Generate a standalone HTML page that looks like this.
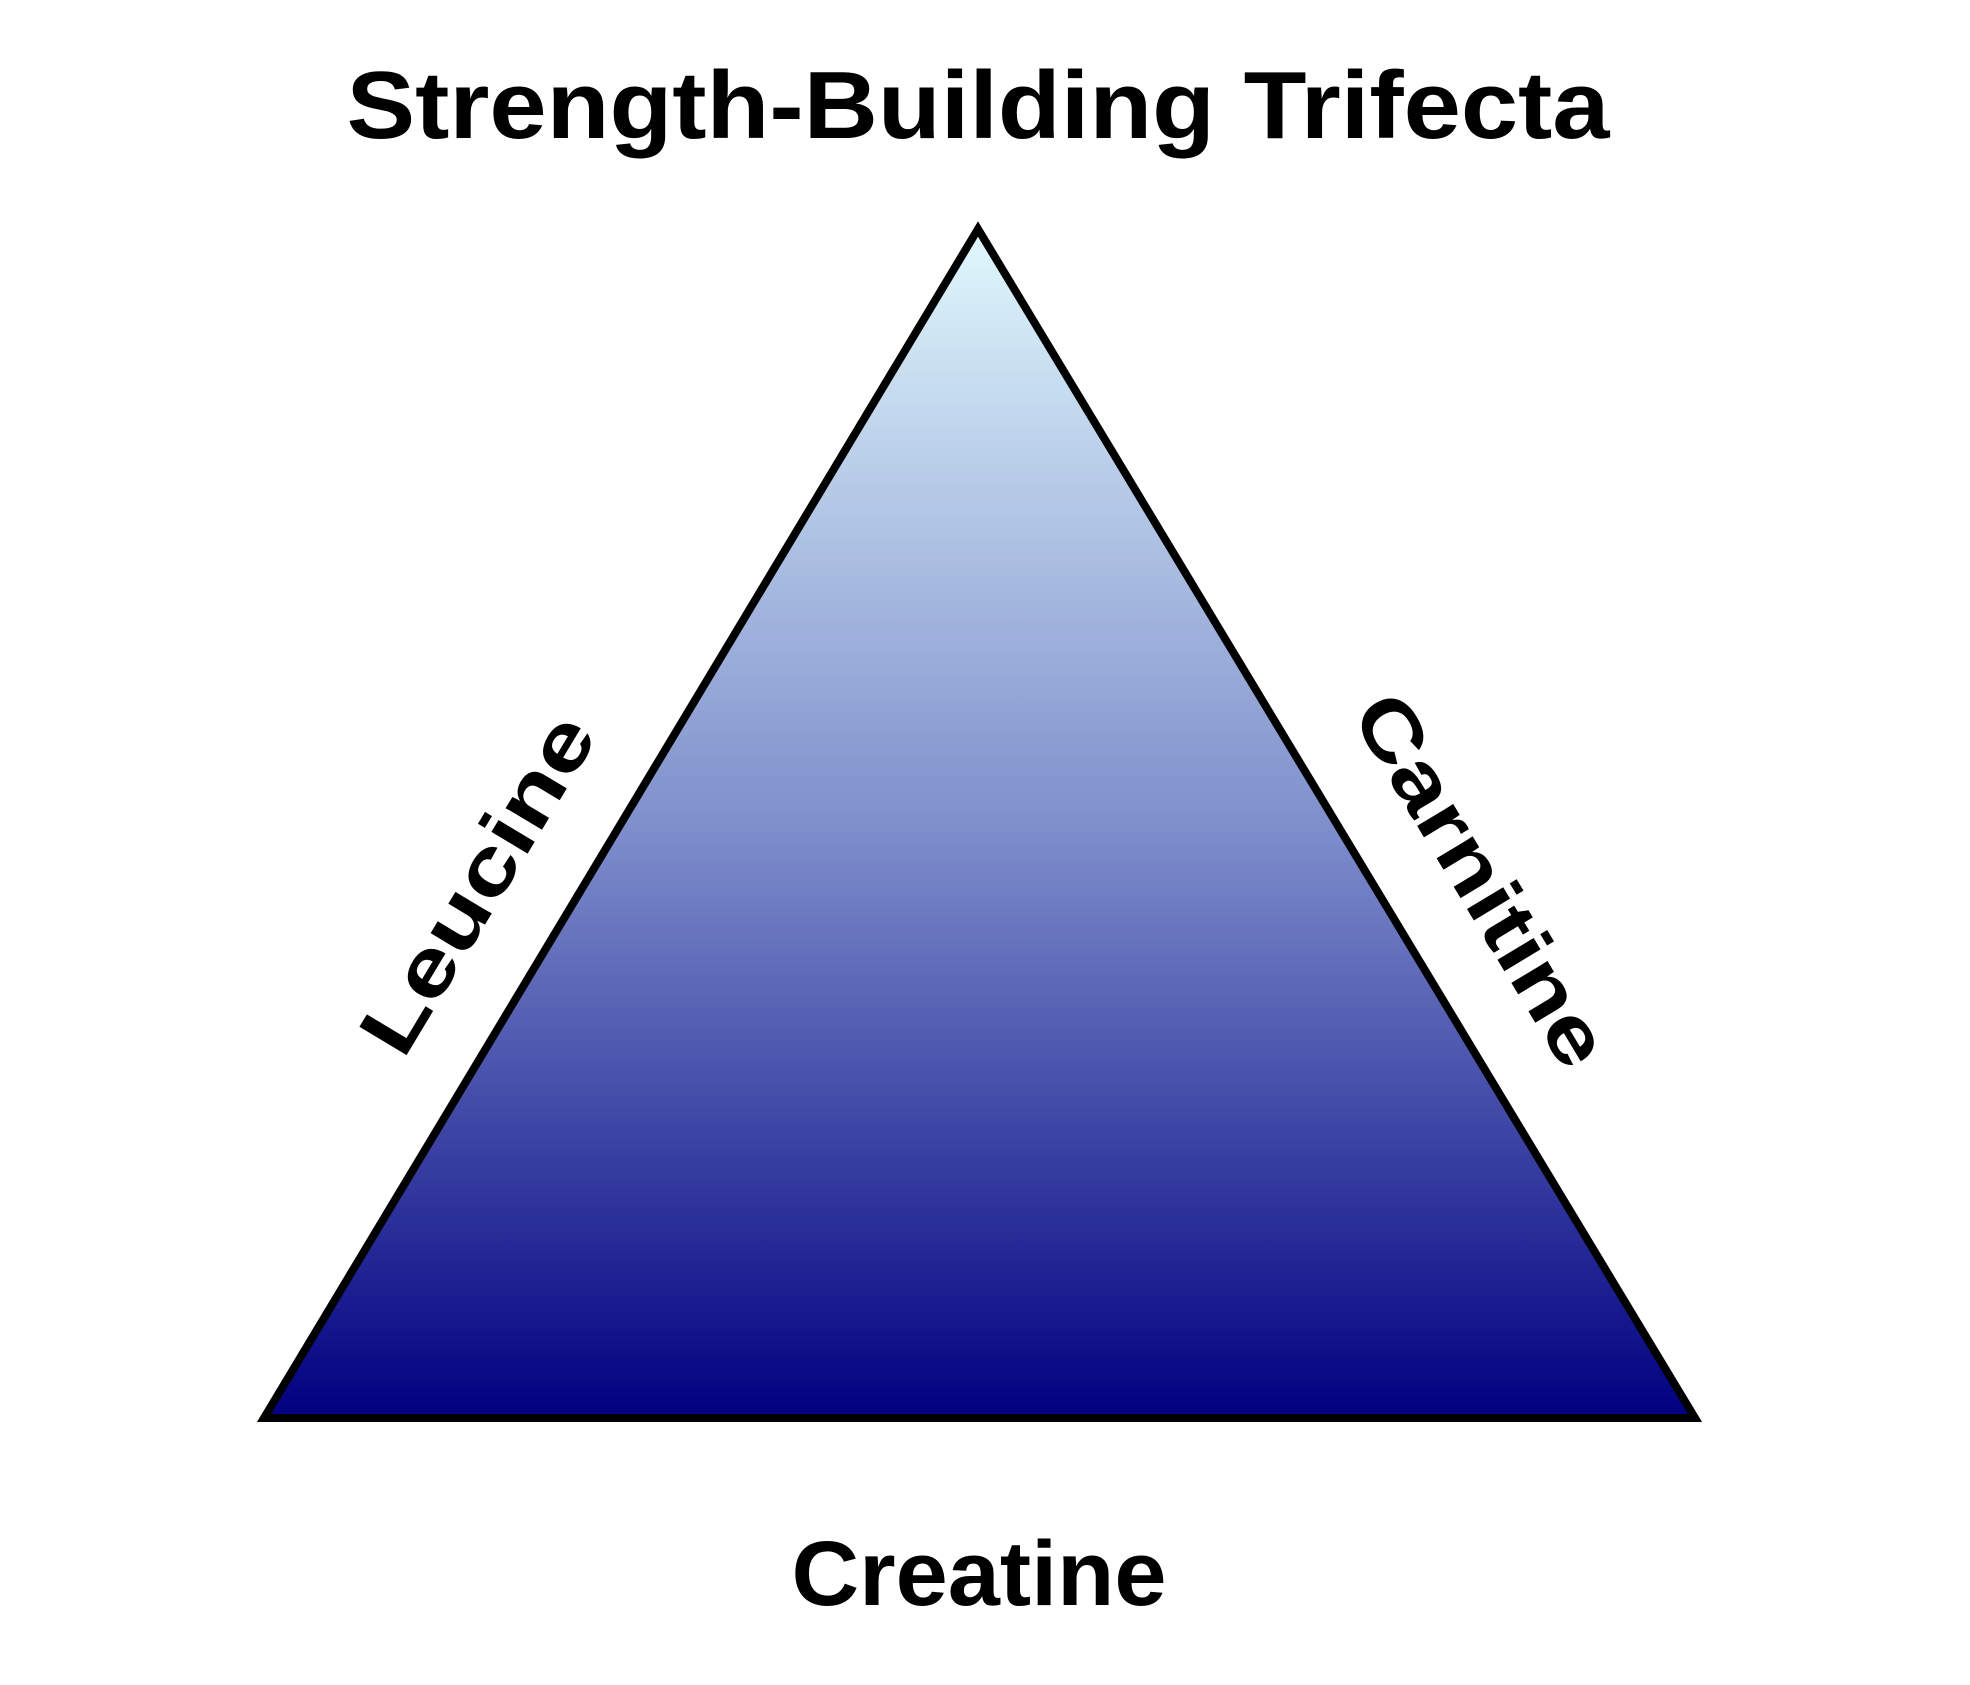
<!DOCTYPE html>
<html><head><style>html,body{margin:0;padding:0;background:#fff}</style></head>
<body>
<svg width="1970" height="1680" viewBox="0 0 1970 1680" xmlns="http://www.w3.org/2000/svg">
<defs><linearGradient id="g" x1="0" y1="0" x2="0" y2="1">
<stop offset="0" stop-color="#e0f8fc"/><stop offset="0.5" stop-color="#7f8fcc"/><stop offset="1" stop-color="#000080"/></linearGradient></defs>
<polygon points="978,229 264,1418 1695,1418" fill="url(#g)" stroke="#000" stroke-width="8"/>
<g font-family="Liberation Sans, sans-serif" font-weight="bold" fill="#000" text-anchor="middle">
<text x="978" y="138" font-size="96" textLength="1263" lengthAdjust="spacingAndGlyphs">Strength-Building Trifecta</text>
<text x="979" y="1605" font-size="92" textLength="375" lengthAdjust="spacingAndGlyphs">Creatine</text>
<text x="0" y="0" font-size="80" textLength="380" lengthAdjust="spacingAndGlyphs" transform="translate(501,898) rotate(-59)">Leucine</text>
<text x="0" y="0" font-size="80" textLength="420" lengthAdjust="spacingAndGlyphs" transform="translate(1458,894) rotate(59)">Carnitine</text>
</g>
</svg>
</body></html>
